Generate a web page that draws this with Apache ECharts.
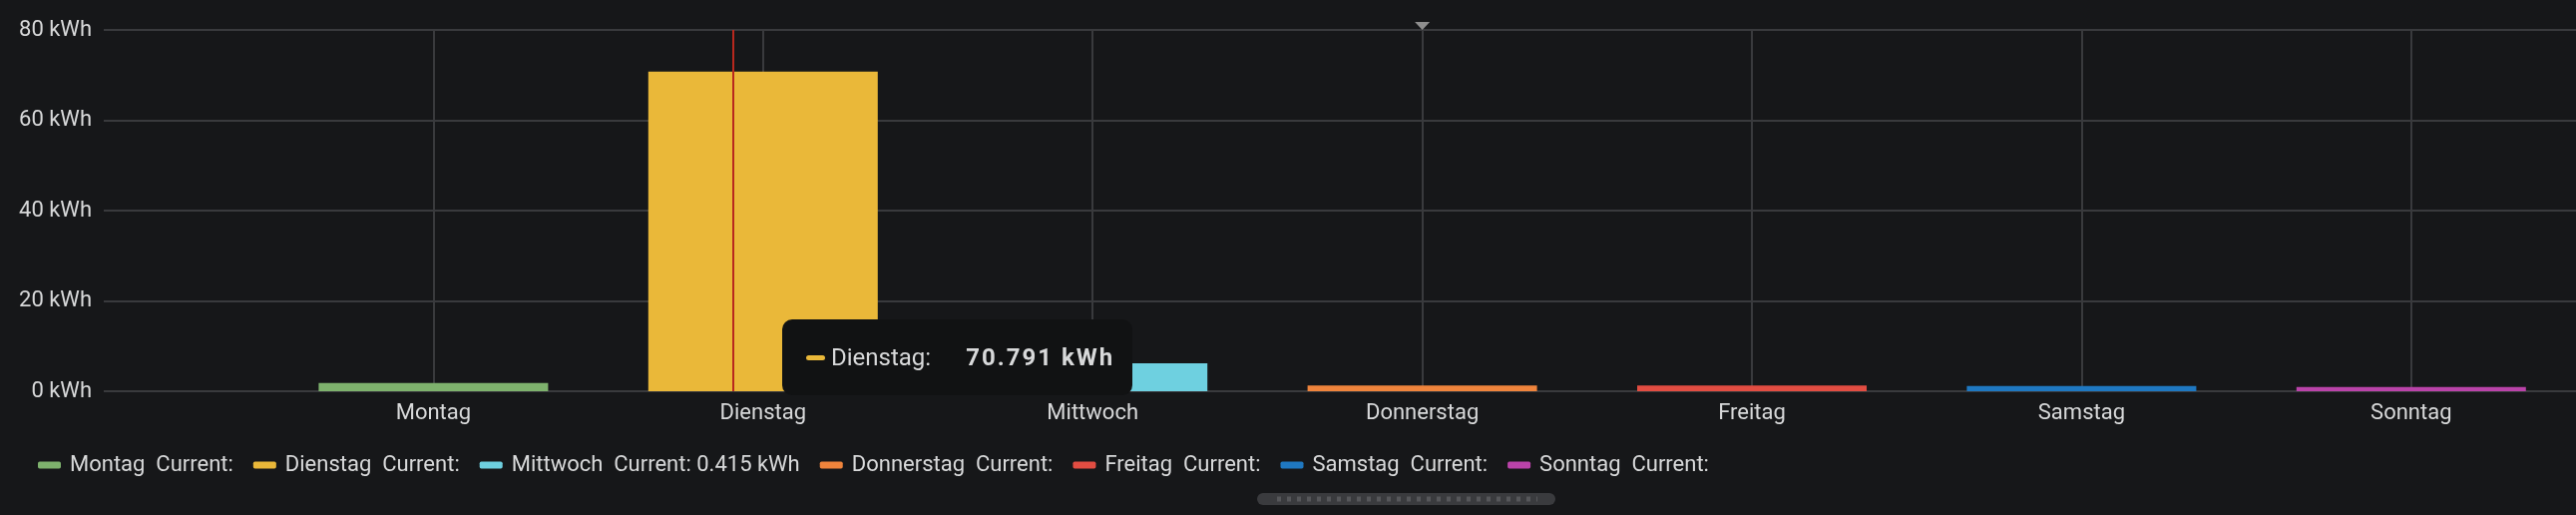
<!DOCTYPE html>
<html>
<head>
<meta charset="utf-8">
<script src="https://cdn.jsdelivr.net/npm/echarts@6/dist/echarts.min.js"></script>
<style>
html,body{margin:0;padding:0;background:#161719;}
#chart{width:2582px;height:516px;position:relative;}
</style>
</head>
<body>
<div id="chart"></div>
<script>
// ---- data ----
const categories = ['Montag', 'Dienstag', 'Mittwoch', 'Donnerstag', 'Freitag', 'Samstag', 'Sonntag'];
const values = [1.85, 70.791, 6.2, 1.25, 1.25, 1.15, 0.95];
const colors = ['#7EB26D', '#EAB839', '#6ED0E0', '#EF843C', '#E24D42', '#1F78C1', '#BA43A9'];
const currentValues = ['', '', '0.415 kWh', '', '', '', ''];
const yTicks = [0, 20, 40, 60, 80];
const unit = 'kWh';
const cursorX = 1.912;          // hover cursor position (in category units)
const annotationAt = 4;         // annotation marker (Donnerstag)
const tooltipSeries = 1;        // Dienstag

const TEXT = '#d8d9da';
const GRID = '#393a3d';
const FONT = 'Roboto';

const chart = echarts.init(document.getElementById('chart'), null, {renderer: 'canvas'});

const series = categories.map((name, i) => {
  const s = {
    name: name,
    type: 'bar',
    data: [[i + 1, values[i]]],
    barWidth: 230,
    barGap: '-100%',
    itemStyle: {color: colors[i]},
    emphasis: {disabled: true}
  };
  if (i === tooltipSeries) {
    s.markLine = {
      silent: true,
      symbol: 'none',
      label: {show: false},
      lineStyle: {color: '#b8281e', width: 2, type: 'solid'},
      data: [{xAxis: cursorX}]
    };
  }
  if (i === annotationAt - 1) {
    s.markPoint = {
      silent: true,
      symbol: 'triangle',
      symbolRotate: 180,
      symbolSize: [15, 8],
      symbolOffset: [0, -4],
      label: {show: false},
      itemStyle: {color: '#8e8e8e'},
      data: [{coord: [annotationAt, yTicks[yTicks.length - 1]]}]
    };
  }
  return s;
});

const splitColors = ['rgba(0,0,0,0)'].concat(categories.map(() => GRID));

chart.setOption({
  backgroundColor: '#161719',
  animation: false,
  textStyle: {fontFamily: FONT},
  grid: {left: 104, right: 0, top: 30, bottom: 124, containLabel: false},
  xAxis: {
    type: 'value',
    min: 0,
    max: categories.length + 0.5,
    interval: 1,
    axisLine: {show: false},
    axisTick: {show: false},
    splitLine: {show: true, lineStyle: {color: splitColors, width: 2}},
    axisLabel: {
      color: TEXT, fontSize: 22, fontFamily: FONT, margin: 11,
      showMinLabel: false, showMaxLabel: false,
      formatter: v => categories[v - 1] || ''
    }
  },
  yAxis: {
    type: 'value',
    min: yTicks[0],
    max: yTicks[yTicks.length - 1],
    interval: yTicks[1] - yTicks[0],
    axisLine: {show: false},
    axisTick: {show: false},
    splitLine: {lineStyle: {color: GRID, width: 2}},
    axisLabel: {color: TEXT, fontSize: 22, fontFamily: FONT, margin: 12, formatter: v => v + ' ' + unit}
  },
  legend: {
    left: 38,
    top: 455,
    padding: 0,
    itemGap: 20,
    itemWidth: 23,
    itemHeight: 7,
    icon: 'roundRect',
    selectedMode: false,
    data: categories,
    textStyle: {color: TEXT, fontSize: 22, fontFamily: FONT, padding: [0, 0, 0, 4]},
    formatter: name => {
      const cv = currentValues[categories.indexOf(name)];
      return name + '  Current:' + (cv ? ' ' + cv : '');
    }
  },
  tooltip: {
    trigger: 'item',
    triggerOn: 'none',
    alwaysShowContent: true,
    transitionDuration: 0,
    showDelay: 0,
    padding: 0,
    borderWidth: 0,
    backgroundColor: '#111213',
    position: [784, 320],
    extraCssText: 'border-radius:10px;box-shadow:none;',
    formatter: p => {
      return '<div style="width:351px;height:76px;box-sizing:border-box;padding-left:24px;display:flex;align-items:center;font-family:Roboto;color:' + TEXT + ';">' +
        '<span style="display:inline-block;width:19px;height:5px;border-radius:3px;background:' + p.color + ';margin-right:6px;"></span>' +
        '<span style="font-size:24px;">' + p.seriesName + ':</span>' +
        '<span style="font-size:24px;font-weight:bold;letter-spacing:2px;margin-left:35px;">' + p.value[1].toFixed(3) + ' ' + unit + '</span>' +
        '</div>';
    }
  },
  graphic: [
    {
      type: 'group', left: 1260, top: 494,
      children: [
        {type: 'rect', shape: {x: 0, y: 0, width: 299, height: 12, r: 6}, style: {fill: '#3a3b3e'}},
        {type: 'line', shape: {x1: 20, y1: 6, x2: 281, y2: 6}, style: {stroke: '#56575a', lineWidth: 5, lineDash: [4, 6]}}
      ]
    }
  ],
  series: series
});

chart.dispatchAction({type: 'showTip', seriesIndex: tooltipSeries, dataIndex: 0});
</script>
</body>
</html>
